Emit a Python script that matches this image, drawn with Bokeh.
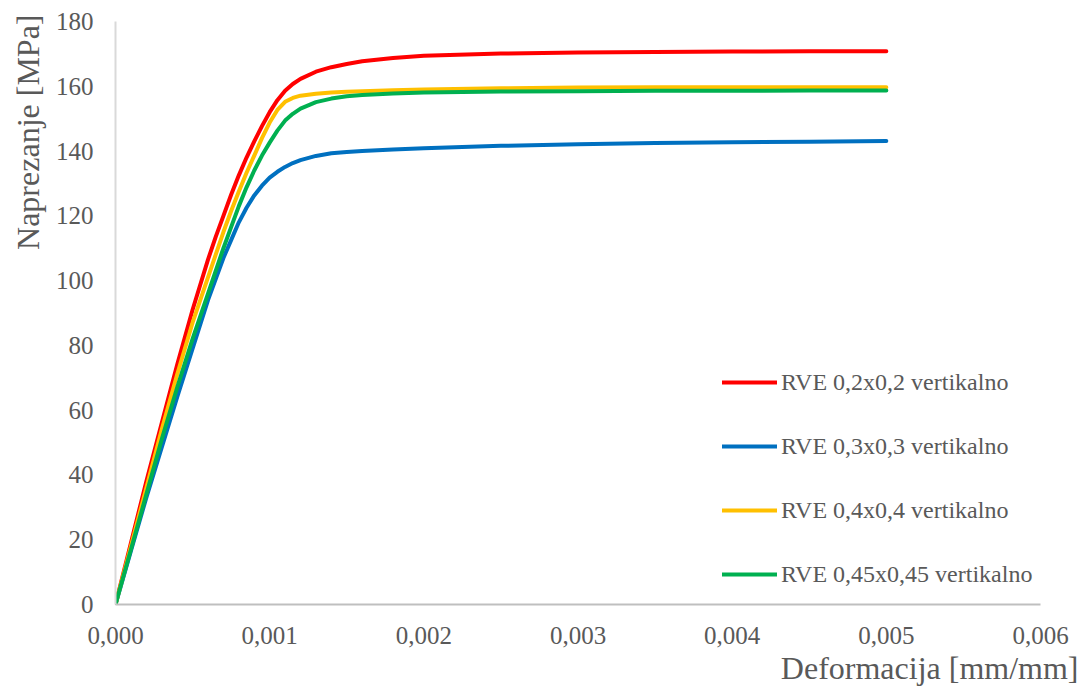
import math
from bokeh.plotting import figure
from bokeh.models import (FixedTicker, CustomJSTickFormatter, Legend, LegendItem,
                          Title, Range1d)
from bokeh.embed import file_html
from bokeh.resources import INLINE

# ---- data ----
strain = [0, 0.0001, 0.0002, 0.0003, 0.0004, 0.0005, 0.0006, 0.00065, 0.0007,
          0.00075, 0.0008, 0.00085, 0.0009, 0.00095, 0.001, 0.00105, 0.0011,
          0.00115, 0.0012, 0.0013, 0.0014, 0.0015, 0.0016, 0.0018, 0.002,
          0.0025, 0.003, 0.0035, 0.004, 0.0045, 0.005]

stress_02 = [0, 19, 38, 56, 74, 91, 106.5, 113.5, 120, 126.5, 132.5, 138, 143,
             147.7, 152, 155.7, 158.6, 160.7, 162.3, 164.5, 165.9, 166.9, 167.7,
             168.7, 169.4, 170.1, 170.4, 170.6, 170.7, 170.8, 170.8]
stress_03 = [0, 16.5, 33, 48.5, 64, 79, 94, 100.5, 107, 112.5, 118, 122.5,
             126.3, 129.3, 131.8, 133.6, 135.1, 136.3, 137.2, 138.5, 139.3,
             139.7, 140, 140.5, 140.9, 141.6, 142.1, 142.5, 142.7, 142.9, 143.1]
stress_04 = [0, 18, 36, 54, 71, 87, 101, 108, 115, 121.5, 127.5, 133.3, 138.6,
             144, 148.8, 152.7, 155.2, 156.4, 157.1, 157.7, 158.1, 158.3, 158.5,
             158.8, 159.0, 159.4, 159.6, 159.7, 159.7, 159.7, 159.7]
stress_045 = [0, 17, 34, 51, 67, 82, 96, 103, 110, 116.5, 123, 128.8, 134,
              138.6, 142.6, 146.3, 149.4, 151.5, 153.1, 155.1, 156.2, 156.9,
              157.3, 157.8, 158.1, 158.4, 158.5, 158.6, 158.6, 158.7, 158.7]

series_names = ["RVE 0,2x0,2 vertikalno", "RVE 0,3x0,3 vertikalno",
                "RVE 0,4x0,4 vertikalno", "RVE 0,45x0,45 vertikalno"]
series_values = [stress_02, stress_03, stress_04, stress_045]
series_colors = ["#FF0000", "#0070C0", "#FFC000", "#00B050"]

x_ticks = [0, 0.001, 0.002, 0.003, 0.004, 0.005, 0.006]
x_tick_labels = ["0,000", "0,001", "0,002", "0,003", "0,004", "0,005", "0,006"]
y_ticks = [0, 20, 40, 60, 80, 100, 120, 140, 160, 180]
y_tick_labels = ["0", "20", "40", "60", "80", "100", "120", "140", "160", "180"]

x_title = "Deformacija [mm/mm]"
y_title = "Naprezanje [MPa]"

FONT = "Liberation Serif"
TXT = "#595959"

p = figure(width=1079, height=688, output_backend="svg", toolbar_location=None,
           x_range=Range1d(x_ticks[0], x_ticks[-1]),
           y_range=Range1d(y_ticks[0], y_ticks[-1]),
           min_border_left=115, min_border_right=39, min_border_top=21,
           min_border_bottom=84)
p.outline_line_color = None
p.xgrid.visible = False
p.ygrid.visible = False
p.background_fill_color = "white"
p.border_fill_color = "white"

renderers = []
for name, vals, col in zip(series_names, series_values, series_colors):
    r = p.line(strain, vals, line_color=col, line_width=4,
               line_cap="round", line_join="round")
    renderers.append(r)

LOOKUP = """
let best = 0, bd = 1e9;
for (let i = 0; i < tv.length; i++) {
    const d = Math.abs(tv[i] - tick);
    if (d < bd) { bd = d; best = i; }
}
return lv[best];
"""

# axes
p.xaxis.ticker = FixedTicker(ticks=x_ticks)
p.xaxis.formatter = CustomJSTickFormatter(
    args=dict(tv=x_ticks, lv=x_tick_labels), code=LOOKUP)
p.yaxis.ticker = FixedTicker(ticks=y_ticks)
p.yaxis.formatter = CustomJSTickFormatter(
    args=dict(tv=y_ticks, lv=y_tick_labels), code=LOOKUP)

for ax in (p.xaxis[0], p.yaxis[0]):
    ax.major_tick_in = 0
    ax.major_tick_out = 0
    ax.minor_tick_in = 0
    ax.minor_tick_out = 0
    ax.major_label_text_font = FONT
    ax.major_label_text_font_size = "25px"
    ax.major_label_text_color = TXT

p.xaxis.axis_line_color = "#bfbfbf"
p.xaxis.axis_line_width = 2
p.xaxis.major_label_standoff = 22
p.yaxis.axis_line_color = "#d9d9d9"
p.yaxis.axis_line_width = 2
p.yaxis.major_label_standoff = 22

# axis titles (placed like the reference, not centered)
p.add_layout(Title(text=x_title, align="right", offset=-38,
                   vertical_align="bottom", standoff=2,
                   text_font=FONT, text_font_size="32px",
                   text_font_style="normal", text_color=TXT), "below")
p.add_layout(Title(text=y_title, align="right", offset=-7,
                   vertical_align="bottom", standoff=14,
                   text_font=FONT, text_font_size="32px",
                   text_font_style="normal", text_color=TXT), "left")

legend = Legend(items=[LegendItem(label=n, renderers=[r])
                       for n, r in zip(series_names, renderers)],
                location=(607, 16), orientation="vertical",
                padding=0, margin=0, spacing=36,
                glyph_width=55, glyph_height=28, label_height=28,
                label_standoff=4,
                label_text_font=FONT, label_text_font_size="24px",
                label_text_color=TXT, label_text_baseline="middle",
                border_line_color=None, background_fill_alpha=0)
p.add_layout(legend, "center")

open("out.html", "w").write(file_html(p, INLINE))
